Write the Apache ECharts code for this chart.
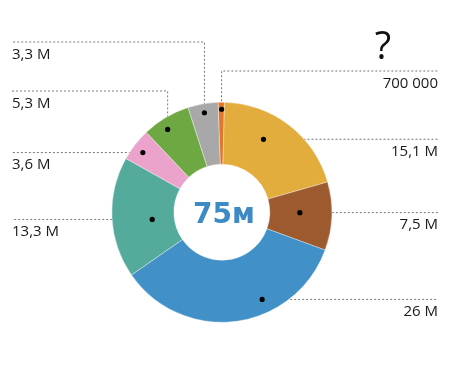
<!DOCTYPE html>
<html>
<head>
<meta charset="utf-8">
<script src="https://cdn.jsdelivr.net/npm/echarts@6/dist/echarts.min.js"></script>
<style>
  html, body { margin: 0; padding: 0; background: #fff; }
  #main { width: 450px; height: 377px; }
</style>
</head>
<body>
<div id="main"></div>
<script>
// данные
const values = [0.7, 15.1, 7.5, 26, 13.3, 3.6, 5.3, 3.3];
const labels = ['700 000', '15,1 M', '7,5 M', '26 M', '13,3 M', '3,6 M', '5,3 M', '3,3 M'];
const colors = ['#e3762a', '#e2ad3c', '#9c5a2e', '#4191c8', '#54ab9b', '#eba2cb', '#6ea843', '#a8a8a8'];
const centerText = '75м';

const W = 450;
const EDGE = 12;
// высота выноски для узких верхних секторов
const elbowY = { 0: 71, 6: 91, 7: 42 };
// где стоит точка внутри сектора: доля угла и радиус
const dotAngle = [0.55, 0.39, 0.45, 0.36, 0.45, 0.45, 0.4, 0.5];
const dotRadius = [103, 84, 78, 96, 70, 99, 99, 101];

const total = values.reduce((a, b) => a + b, 0);
const midShare = [];
let acc = 0;
values.forEach((v) => {
  midShare.push((acc + v / 2) / total);
  acc += v;
});

const chart = echarts.init(document.getElementById('main'));

const anchor = (i) => {
  const l = chart.getModel().getSeriesByIndex(0).getData().getItemLayout(i);
  const a = l.startAngle + (l.endAngle - l.startAngle) * dotAngle[i];
  const r = dotRadius[i];
  return [l.cx + r * Math.cos(a), l.cy + r * Math.sin(a)];
};

chart.setOption({
  animation: false,
  series: [
    {
      type: 'pie',
      center: ['49.3%', '56.3%'],
      radius: [48, 110],
      startAngle: 92,
      clockwise: true,
      avoidLabelOverlap: false,
      itemStyle: {
        borderColor: 'rgba(255,255,255,0.6)',
        borderWidth: 0.6,
      },
      label: {
        show: true,
        position: 'outside',
        formatter: '{b}',
        fontFamily: 'Open Sans',
        fontSize: 15,
        color: '#1a1a1a',
      },
      labelLine: {
        show: true,
        lineStyle: {
          color: '#777',
          width: 1,
          type: [2, 2],
        },
      },
      labelLayout: (p) => {
        const i = p.dataIndex;
        const [dx, dy] = anchor(i);
        const right = midShare[i] < 0.5;
        const ly = elbowY[i] != null ? elbowY[i] : dy;
        const endX = right ? W - EDGE : EDGE;
        return {
          x: endX,
          y: ly + 5,
          align: right ? 'right' : 'left',
          verticalAlign: 'top',
          labelLinePoints: [[dx, dy], [dx, ly], [endX, ly]],
        };
      },
      emphasis: { disabled: true },
      data: values.map((v, i) => ({
        value: v,
        name: labels[i],
        itemStyle: { color: colors[i] },
      })),
    },
  ],
});

// точки и подпись в центре
const l0 = chart.getModel().getSeriesByIndex(0).getData().getItemLayout(0);
const dots = values.map((v, i) => {
  const [x, y] = anchor(i);
  return {
    type: 'circle',
    shape: { cx: x, cy: y, r: 2.6 },
    style: { fill: '#000' },
    z: 100,
  };
});

chart.setOption({
  graphic: [
    ...dots,
    {
      type: 'text',
      x: l0.cx + 2,
      y: l0.cy + 3,
      style: {
        text: centerText,
        fill: '#3d8ac4',
        font: 'bold 28px "DejaVu Sans"',
        align: 'center',
        verticalAlign: 'middle',
      },
      z: 100,
    },
    {
      type: 'text',
      x: 383,
      y: 48,
      style: {
        text: '?',
        fill: '#111',
        font: '38px "Open Sans"',
        align: 'center',
        verticalAlign: 'middle',
      },
    },
  ],
});
</script>
</body>
</html>
